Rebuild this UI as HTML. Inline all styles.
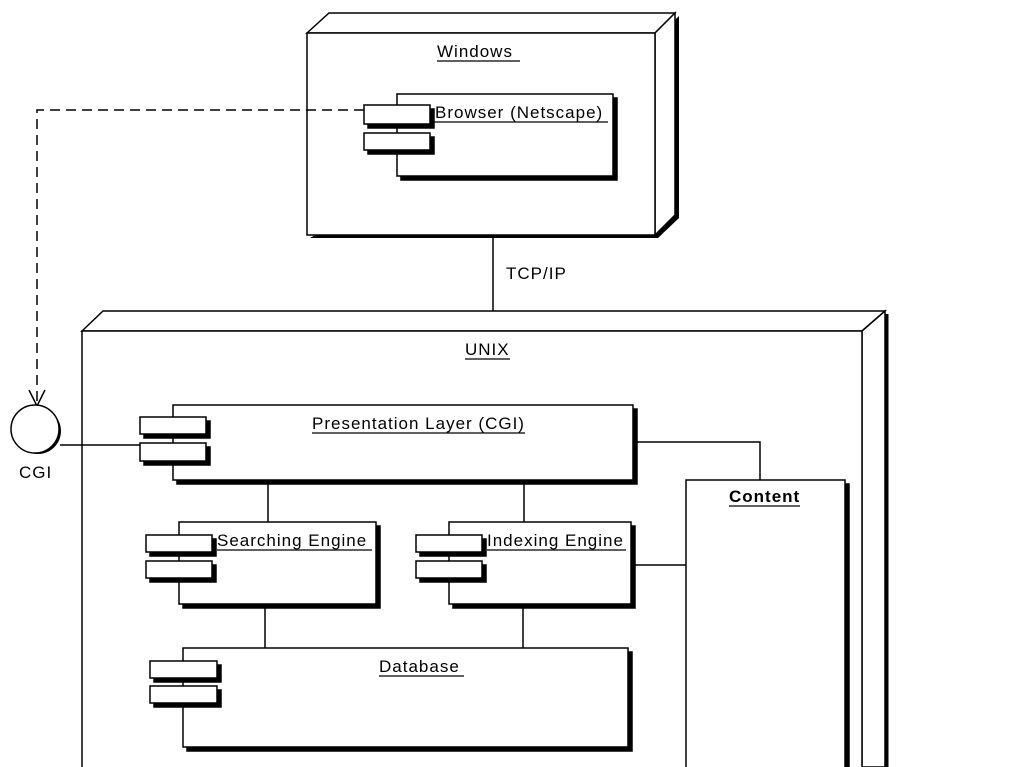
<!DOCTYPE html>
<html><head><style>html,body{margin:0;padding:0;background:#fff}svg{display:block}text{font-family:"Liberation Sans",sans-serif;font-size:17px;letter-spacing:1px;fill:#000}</style></head><body>
<svg width="1024" height="767" viewBox="0 0 1024 767" xmlns="http://www.w3.org/2000/svg">
<g stroke="#000" stroke-width="1.5" fill="#fff">
<polygon points="310,238 658,238 679,218 679,16 658,36" fill="#000" stroke="none"/>
<polygon points="307,33 329,13 675,13 655,33" />
<polygon points="655,33 675,13 675,215 655,235" />
<rect x="307" y="33" width="348" height="202"/>
<polygon points="82,331 103,311 885,311 862,331"/>
<polygon points="862,331 885,311 885,767 862,767"/>
<line x1="887" y1="314" x2="887" y2="767" stroke-width="3"/>
<rect x="82" y="331" width="780" height="440"/>
</g>
<g stroke="#000" stroke-width="1.5" fill="none">
<line x1="493" y1="236" x2="493" y2="311"/>
<path d="M364,110 H37 V405" stroke-dasharray="10,6"/>
<path d="M29,390 L37,406 L45,390"/>
<line x1="60" y1="445" x2="140" y2="445"/>
<path d="M633,442 H760 V480"/>
<line x1="631" y1="565" x2="686" y2="565"/>
<line x1="268" y1="480" x2="268" y2="522"/>
<line x1="524" y1="480" x2="524" y2="522"/>
<line x1="265" y1="604" x2="265" y2="648"/>
<line x1="523" y1="604" x2="523" y2="648"/>
</g>
<circle cx="38" cy="431" r="23" fill="#000"/>
<circle cx="35" cy="429" r="24" fill="#fff" stroke="#000" stroke-width="1.5"/>
<g stroke="#000" stroke-width="1.5" fill="#fff">
<rect x="401" y="98" width="216" height="82" fill="#000"/><rect x="397" y="94" width="216" height="82"/>
<rect x="368" y="109" width="66" height="19" fill="#000"/><rect x="364" y="105" width="66" height="19"/>
<rect x="368" y="137" width="66" height="17" fill="#000"/><rect x="364" y="133" width="66" height="17"/>

<rect x="177" y="409" width="460" height="75" fill="#000"/><rect x="173" y="405" width="460" height="75"/>
<rect x="144" y="421" width="66" height="17" fill="#000"/><rect x="140" y="417" width="66" height="17"/>
<rect x="144" y="447" width="66" height="18" fill="#000"/><rect x="140" y="443" width="66" height="18"/>

<rect x="183" y="526" width="197" height="82" fill="#000"/><rect x="179" y="522" width="197" height="82"/>
<rect x="150" y="539" width="66" height="17" fill="#000"/><rect x="146" y="535" width="66" height="17"/>
<rect x="150" y="565" width="66" height="17" fill="#000"/><rect x="146" y="561" width="66" height="17"/>

<rect x="453" y="526" width="182" height="82" fill="#000"/><rect x="449" y="522" width="182" height="82"/>
<rect x="420" y="539" width="66" height="17" fill="#000"/><rect x="416" y="535" width="66" height="17"/>
<rect x="420" y="565" width="66" height="17" fill="#000"/><rect x="416" y="561" width="66" height="17"/>

<rect x="187" y="652" width="445" height="99" fill="#000"/><rect x="183" y="648" width="445" height="99"/>
<rect x="154" y="665" width="67" height="17" fill="#000"/><rect x="150" y="661" width="67" height="17"/>
<rect x="154" y="690" width="67" height="17" fill="#000"/><rect x="150" y="686" width="67" height="17"/>

<rect x="690" y="484" width="159" height="290" fill="#000"/><rect x="686" y="480" width="159" height="290"/>
</g>
<g>
<text x="437" y="57">Windows</text>
<text x="435" y="118">Browser (Netscape)</text>
<text x="465" y="355">UNIX</text>
<text x="312" y="429">Presentation Layer (CGI)</text>
<text x="217" y="546">Searching Engine</text>
<text x="487" y="546">Indexing Engine</text>
<text x="379" y="672">Database</text>
<text x="729" y="502" font-weight="bold" letter-spacing="0">Content</text>
</g>
<text x="506" y="279">TCP/IP</text>
<text x="19" y="478">CGI</text>
<g stroke="#000" stroke-width="1.2">
<line x1="437" y1="61" x2="520" y2="61"/><line x1="434" y1="122" x2="608" y2="122"/>
<line x1="465" y1="359" x2="510" y2="359"/><line x1="312" y1="433" x2="525" y2="433"/>
<line x1="217" y1="550" x2="372" y2="550"/><line x1="487" y1="550" x2="626" y2="550"/>
<line x1="379" y1="676" x2="464" y2="676"/><line x1="729" y1="506" x2="800" y2="506"/>
</g>
</svg>
</body></html>
